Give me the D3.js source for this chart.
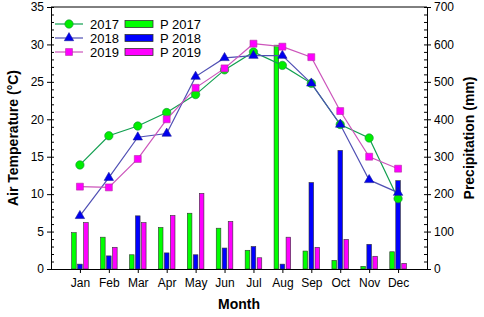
<!DOCTYPE html>
<html>
<head>
<meta charset="utf-8">
<script src="https://cdn.jsdelivr.net/npm/d3@7"></script>
<style>
  body { margin: 0; background: #fff; }
  svg { display: block; font-family: "Liberation Sans", Arial, sans-serif; }
  .axis path, .axis line { stroke: #000; }
</style>
</head>
<body>
<div class="chart"></div>
<script>
// data
const months = ["Jan", "Feb", "Mar", "Apr", "May", "Jun", "Jul", "Aug", "Sep", "Oct", "Nov", "Dec"];
const temp2017 = [13.9, 17.8, 19.1, 20.9, 23.3, 26.6, 29.0, 27.2, 24.8, 19.3, 17.5, 9.4];
const temp2018 = [7.1, 12.2, 17.6, 18.1, 25.7, 28.2, 28.5, 28.5, 24.8, 19.3, 11.9, 10.2];
const temp2019 = [11.0, 10.9, 14.7, 20.0, 24.2, 26.8, 30.1, 29.7, 28.3, 21.1, 15.0, 13.4];
const precip2017 = [97, 85, 38, 111, 149, 109, 50, 598, 48, 23, 7, 46];
const precip2018 = [13, 35, 142, 43, 38, 56, 60, 13, 231, 317, 66, 236];
const precip2019 = [124, 58, 124, 143, 202, 127, 30, 85, 58, 79, 34, 15];
const tempTicks = [0, 5, 10, 15, 20, 25, 30, 35];
const precipTicks = [0, 100, 200, 300, 400, 500, 600, 700];

const svg_width = 484, svg_height = 317;
const plot = { left: 51, right: 427, top: 7, bottom: 269 };

const svg = d3.select(".chart").append("svg")
    .attr("width", svg_width).attr("height", svg_height);

// scales
const x = d3.scaleLinear([0, 13], [plot.left, plot.right]);
const yT = d3.scaleLinear([0, 35], [plot.bottom, plot.top]);
const yP = d3.scaleLinear([0, 700], [plot.bottom, plot.top]);

const series = [
    { name: "2017", temp: temp2017, precip: precip2017, line: "#12a050", fill: "#00ee00", stroke: "#128a3a", shape: d3.symbolCircle, size: 55, bar: "#00ff00" },
    { name: "2018", temp: temp2018, precip: precip2018, line: "#5050b4", fill: "#0000ee", stroke: "#1a1a9a", shape: d3.symbolTriangle, size: 38, bar: "#0000ff" },
    { name: "2019", temp: temp2019, precip: precip2019, line: "#cc55bb", fill: "#ff00ff", stroke: "#b030a0", shape: d3.symbolSquare, size: 48, bar: "#ff00ff" }
];

// bars
const barW = 4.6, barStep = 6;
series.forEach((s, si) => {
    svg.append("g").selectAll("rect").data(s.precip).join("rect")
        .attr("x", (d, i) => x(i + 1) + (si - 1) * barStep - barW / 2)
        .attr("y", d => yP(d))
        .attr("width", barW)
        .attr("height", d => yP(0) - yP(d))
        .attr("fill", s.bar)
        .attr("stroke", "#333")
        .attr("stroke-width", 0.6);
});

// lines
const line = d3.line().x((d, i) => x(i + 1)).y(d => yT(d));
series.forEach(s => {
    svg.append("path").datum(s.temp)
        .attr("d", line)
        .attr("fill", "none")
        .attr("stroke", s.line)
        .attr("stroke-width", 1.2);
});
series.forEach(s => {
    svg.append("g").selectAll("path").data(s.temp).join("path")
        .attr("transform", (d, i) => `translate(${x(i + 1)},${yT(d)})`)
        .attr("d", d3.symbol(s.shape, s.size))
        .attr("fill", s.fill)
        .attr("stroke", s.stroke)
        .attr("stroke-width", 0.6);
});

// axes
svg.append("g").attr("class", "axis")
    .attr("transform", `translate(${plot.left},0)`)
    .call(d3.axisLeft(yT).tickValues(tempTicks).tickSize(4).tickPadding(3).tickSizeOuter(0));
svg.append("g").attr("class", "axis")
    .attr("transform", `translate(${plot.left},0)`)
    .call(d3.axisLeft(yT).tickValues(d3.range(0, 36, 1)).tickSize(-3).tickFormat("").tickSizeOuter(0));

svg.append("g").attr("class", "axis")
    .attr("transform", `translate(${plot.right},0)`)
    .call(d3.axisRight(yP).tickValues(precipTicks).tickSize(4).tickPadding(3).tickSizeOuter(0));
svg.append("g").attr("class", "axis")
    .attr("transform", `translate(${plot.right},0)`)
    .call(d3.axisRight(yP).tickValues(d3.range(0, 701, 20)).tickSize(-3).tickFormat("").tickSizeOuter(0));

svg.append("g").attr("class", "axis")
    .attr("transform", `translate(0,${plot.bottom})`)
    .call(d3.axisBottom(x).tickValues(d3.range(1, 13)).tickSize(4).tickPadding(5)
        .tickFormat(d => months[d - 1]).tickSizeOuter(0));

svg.selectAll(".axis text").style("font-size", "12px").attr("fill", "#000");

// top frame
svg.append("line")
    .attr("x1", plot.left).attr("x2", plot.right).attr("y1", plot.top).attr("y2", plot.top)
    .attr("stroke", "#000");

// axis titles
svg.append("text")
    .attr("transform", `translate(18,${(plot.top + plot.bottom) / 2}) rotate(-90)`)
    .attr("text-anchor", "middle")
    .style("font-size", "14px").style("font-weight", "bold")
    .text("Air Temperature (°C)");
svg.append("text")
    .attr("transform", `translate(474,${(plot.top + plot.bottom) / 2}) rotate(-90)`)
    .attr("text-anchor", "middle")
    .style("font-size", "14px").style("font-weight", "bold")
    .text("Precipitation (mm)");
svg.append("text")
    .attr("x", (plot.left + plot.right) / 2).attr("y", 309)
    .attr("text-anchor", "middle")
    .style("font-size", "14px").style("font-weight", "bold")
    .text("Month");

// legend
const legend = svg.append("g").attr("class", "legend");
series.forEach((s, i) => {
    const ly = 24 + i * 14;
    legend.append("line")
        .attr("x1", 55).attr("x2", 83).attr("y1", ly).attr("y2", ly)
        .attr("stroke", s.line).attr("stroke-width", 1.2);
    legend.append("path")
        .attr("transform", `translate(69,${ly})`)
        .attr("d", d3.symbol(s.shape, s.size))
        .attr("fill", s.fill).attr("stroke", s.stroke).attr("stroke-width", 0.6);
    legend.append("text")
        .attr("x", 90).attr("y", ly).attr("dy", "0.35em")
        .style("font-size", "13px")
        .text(s.name);
    legend.append("rect")
        .attr("x", 125).attr("y", ly - 3.5).attr("width", 28).attr("height", 7)
        .attr("fill", s.bar).attr("stroke", "#333").attr("stroke-width", 0.8);
    legend.append("text")
        .attr("x", 160).attr("y", ly).attr("dy", "0.35em")
        .style("font-size", "13px")
        .text("P " + s.name);
});
</script>
</body>
</html>
